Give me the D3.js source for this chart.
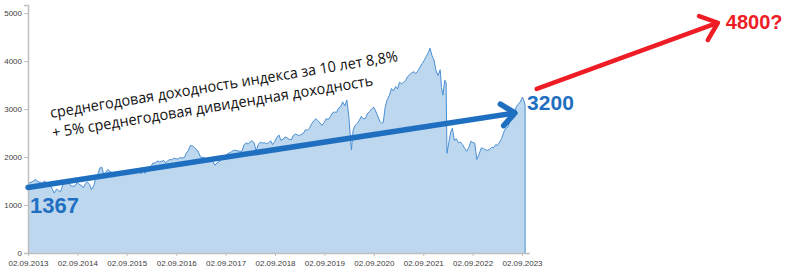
<!DOCTYPE html>
<html>
<head>
<meta charset="utf-8">
<script src="https://cdn.jsdelivr.net/npm/d3@7"></script>
<style>
  body { margin: 0; background: #fff; }
  svg { display: block; }
</style>
</head>
<body>
<div id="chart"></div>
<script>
// Index values, half-monthly.
const dates = [
  "2013-09-02","2013-09-15","2013-10-01","2013-10-15","2013-11-01","2013-11-15","2013-12-01","2013-12-15",
  "2014-01-01","2014-01-15","2014-02-01","2014-02-15","2014-03-01","2014-03-15","2014-04-01","2014-04-15",
  "2014-05-01","2014-05-15","2014-06-01","2014-06-15","2014-07-01","2014-07-15","2014-08-01","2014-08-15",
  "2014-09-01","2014-09-15","2014-10-01","2014-10-15","2014-11-01","2014-11-15","2014-12-01","2014-12-15",
  "2015-01-01","2015-01-15","2015-02-01","2015-02-15","2015-03-01","2015-03-15","2015-04-01","2015-04-15",
  "2015-05-01","2015-05-15","2015-06-01","2015-06-15","2015-07-01","2015-07-15","2015-08-01","2015-08-15",
  "2015-09-01","2015-09-15","2015-10-01","2015-10-15","2015-11-01","2015-11-15","2015-12-01","2015-12-15",
  "2016-01-01","2016-01-15","2016-02-01","2016-02-15","2016-03-01","2016-03-15","2016-04-01","2016-04-15",
  "2016-05-01","2016-05-15","2016-06-01","2016-06-15","2016-07-01","2016-07-15","2016-08-01","2016-08-15",
  "2016-09-01","2016-09-15","2016-10-01","2016-10-15","2016-11-01","2016-11-15","2016-12-01","2016-12-15",
  "2017-01-01","2017-01-15","2017-02-01","2017-02-15","2017-03-01","2017-03-15","2017-04-01","2017-04-15",
  "2017-05-01","2017-05-15","2017-06-01","2017-06-15","2017-07-01","2017-07-15","2017-08-01","2017-08-15",
  "2017-09-01","2017-09-15","2017-10-01","2017-10-15","2017-11-01","2017-11-15","2017-12-01","2017-12-15",
  "2018-01-01","2018-01-15","2018-02-01","2018-02-15","2018-03-01","2018-03-15","2018-04-01","2018-04-15",
  "2018-05-01","2018-05-15","2018-06-01","2018-06-15","2018-07-01","2018-07-15","2018-08-01","2018-08-15",
  "2018-09-01","2018-09-15","2018-10-01","2018-10-15","2018-11-01","2018-11-15","2018-12-01","2018-12-15",
  "2019-01-01","2019-01-15","2019-02-01","2019-02-15","2019-03-01","2019-03-15","2019-04-01","2019-04-15",
  "2019-05-01","2019-05-15","2019-06-01","2019-06-15","2019-07-01","2019-07-15","2019-08-01","2019-08-15",
  "2019-09-01","2019-09-15","2019-10-01","2019-10-15","2019-11-01","2019-11-15","2019-12-01","2019-12-15",
  "2020-01-01","2020-01-15","2020-02-01","2020-02-15","2020-03-01","2020-03-10","2020-03-20","2020-04-01",
  "2020-04-15","2020-05-01","2020-05-15","2020-06-01","2020-06-15","2020-07-01","2020-07-15","2020-08-01",
  "2020-08-15","2020-09-01","2020-09-15","2020-10-01","2020-10-15","2020-11-01","2020-11-10","2020-11-25",
  "2020-12-10","2020-12-25",
  "2021-01-10","2021-01-25","2021-02-10","2021-02-25","2021-03-10","2021-03-25","2021-04-10","2021-04-25",
  "2021-05-10","2021-05-25","2021-06-10","2021-06-25","2021-07-10","2021-07-25","2021-08-10","2021-08-25",
  "2021-09-10","2021-09-25","2021-10-10","2021-10-22","2021-11-05","2021-11-20","2021-12-05","2021-12-20",
  "2022-01-05","2022-01-15","2022-01-25","2022-02-08","2022-02-18","2022-02-24","2022-03-24","2022-04-05",
  "2022-04-20","2022-05-05","2022-05-20","2022-06-05","2022-06-20","2022-07-05","2022-07-20","2022-08-05",
  "2022-08-20","2022-09-05","2022-09-18","2022-10-03","2022-10-18","2022-11-05","2022-11-20","2022-12-05",
  "2022-12-20",
  "2023-01-05","2023-01-20","2023-02-05","2023-02-20","2023-03-05","2023-03-20","2023-04-05","2023-04-20",
  "2023-05-05","2023-05-20","2023-06-05","2023-06-20","2023-07-05","2023-07-20","2023-08-05","2023-08-20",
  "2023-09-05","2023-09-14","2023-09-25"
];
const values = [
  1420,1470,1480,1510,1530,1480,1480,1450,
  1500,1470,1420,1410,1330,1250,1330,1300,
  1280,1400,1450,1480,1470,1400,1390,1400,
  1470,1430,1410,1360,1450,1480,1430,1320,
  1400,1560,1650,1770,1790,1650,1680,1740,
  1700,1680,1650,1660,1660,1690,1640,1710,
  1650,1640,1680,1690,1700,1730,1720,1650,
  1760,1660,1720,1750,1820,1880,1870,1920,
  1900,1910,1930,1880,1920,1950,1940,1980,
  1960,1960,1990,1980,1990,2080,2140,2240,
  2230,2200,2150,2090,1990,2000,1980,1960,
  1990,1980,1900,1830,1880,1900,1950,1960,
  2010,2070,2090,2110,2140,2140,2130,2120,
  2120,2250,2300,2270,2310,2340,2300,2120,
  2260,2310,2290,2300,2280,2290,2340,2260,
  2330,2410,2460,2350,2370,2420,2400,2370,
  2360,2450,2480,2460,2450,2470,2500,2570,
  2560,2600,2700,2750,2800,2760,2710,2660,
  2720,2800,2780,2840,2920,2940,2930,3020,
  3050,3150,3070,3190,2850,2500,2150,2550,
  2650,2700,2750,2850,2800,2800,2900,2950,
  3000,3040,2960,2850,2750,2700,2720,3050,
  3200,3280,
  3430,3380,3470,3420,3560,3530,3560,3600,
  3680,3720,3760,3780,3740,3800,3880,3950,
  4020,4100,4180,4270,4120,4030,3800,3700,
  3820,3450,3290,3600,3550,2080,2520,2600,
  2350,2380,2300,2310,2260,2180,2120,2200,
  2330,2300,2290,1950,2050,2190,2180,2150,
  2140,
  2160,2200,2200,2260,2240,2310,2390,2520,
  2600,2620,2780,2810,2850,3040,3100,3150,
  3250,3200,3080
];

// Axis tick labels.
const yTicks = [0, 1000, 2000, 3000, 4000, 5000];
const xTickLabels = [
  "02.09.2013","02.09.2014","02.09.2015","02.09.2016","02.09.2017","02.09.2018",
  "02.09.2019","02.09.2020","02.09.2021","02.09.2022","02.09.2023"
];

// Annotations.
const trendStart = { date: "2013-09-02", value: 1367 };
const trendEnd = { date: "2023-07-12", value: 2920 };
const forecastStart = { date: "2023-12-20", value: 3420 };
const forecastEnd = { date: "2027-08-20", value: 4800 };
const labelStart = "1367";
const labelEnd = "3200";
const labelForecast = "4800?";
const noteLines = [
  "среднегодовая доходность индекса за 10 лет 8,8%",
  "+ 5% среднегодовая дивидендная доходность"
];

// Draws an arrow: a thick line and an open chevron at the end.
function arrow(svg, x1, y1, x2, y2, color, width, head) {
  const angle = Math.atan2(y2 - y1, x2 - x1);
  const spread = Math.PI * 0.22;
  const g = svg.append("g")
    .attr("stroke", color)
    .attr("stroke-width", width)
    .attr("stroke-linecap", "round")
    .attr("stroke-linejoin", "round")
    .attr("fill", "none");
  g.append("line")
    .attr("x1", x1).attr("y1", y1)
    .attr("x2", x2 - Math.cos(angle) * 2).attr("y2", y2 - Math.sin(angle) * 2);
  g.append("path")
    .attr("d", "M" + (x2 - head * Math.cos(angle - spread)) + "," + (y2 - head * Math.sin(angle - spread)) +
      "L" + x2 + "," + y2 +
      "L" + (x2 - head * Math.cos(angle + spread)) + "," + (y2 - head * Math.sin(angle + spread)));
}

d3.select(window).on("load", function () {
  const width = 800;
  const height = 272;
  const parse = d3.timeParse("%Y-%m-%d");
  const parseTick = d3.timeParse("%d.%m.%Y");

  const data = dates.map((d, i) => ({ date: parse(d), value: values[i] }));
  const tickDates = xTickLabels.map(parseTick);

  const svg = d3.select("#chart")
    .append("svg")
    .attr("width", width)
    .attr("height", height);

  const x = d3.scaleTime()
    .domain([tickDates[0], tickDates[tickDates.length - 1]])
    .range([28, 522]);
  const y = d3.scaleLinear()
    .domain([0, 5170])
    .range([253, 5]);

  // Area and its outline.
  const area = d3.area()
    .x(d => x(d.date))
    .y0(y(0))
    .y1(d => y(d.value));
  const line = d3.line()
    .x(d => x(d.date))
    .y(d => y(d.value));

  svg.append("path")
    .datum(data)
    .attr("d", area)
    .attr("fill", "#bdd7ee");
  svg.append("path")
    .datum(data)
    .attr("d", line)
    .attr("fill", "none")
    .attr("stroke", "#4a8fd3")
    .attr("stroke-width", 1);
  const last = data[data.length - 1];
  svg.append("line")
    .attr("x1", x(last.date)).attr("x2", x(last.date))
    .attr("y1", y(last.value)).attr("y2", y(0))
    .attr("stroke", "#4a8fd3")
    .attr("stroke-width", 1);

  // Axes.
  const yAxis = d3.axisLeft(y).tickValues(yTicks).tickSize(4).tickFormat(d3.format("d"));
  const xAxis = d3.axisBottom(x).tickValues(tickDates).tickSize(3)
    .tickFormat((d, i) => xTickLabels[i]);

  const gy = svg.append("g")
    .attr("transform", "translate(28,0)")
    .call(yAxis);
  const gx = svg.append("g")
    .attr("transform", "translate(0,253)")
    .call(xAxis);
  gx.select(".domain").attr("d", "M28,0.5H530");

  [gx, gy].forEach(g => {
    g.select(".domain").attr("stroke", "#bfbfbf").attr("stroke-width", 1.5);
    g.selectAll(".tick line").attr("stroke", "#bfbfbf");
    g.selectAll(".tick text")
      .attr("fill", "#404040")
      .style("font-family", "Liberation Sans, Arial, sans-serif")
      .style("font-size", "8px");
  });
  gy.selectAll(".tick text").attr("x", -6);
  gx.selectAll(".tick text").attr("y", 7);

  // Trend arrow (blue) and forecast arrow (red).
  arrow(svg, x(parse(trendStart.date)), y(trendStart.value),
    x(parse(trendEnd.date)), y(trendEnd.value), "#1f6fc1", 5.5, 17);
  arrow(svg, x(parse(forecastStart.date)), y(forecastStart.value),
    x(parse(forecastEnd.date)), y(forecastEnd.value), "#ee1c25", 4.5, 20);

  const bold = "Liberation Sans, Arial, sans-serif";
  svg.append("text")
    .attr("x", x(parse(trendStart.date)) + 2)
    .attr("y", y(trendStart.value) + 26)
    .attr("fill", "#1f6fc1")
    .style("font-family", bold)
    .style("font-weight", "bold")
    .style("font-size", "22px")
    .text(labelStart);
  svg.append("text")
    .attr("x", x(last.date) + 2)
    .attr("y", y(3200) + 11)
    .attr("fill", "#1f6fc1")
    .style("font-family", bold)
    .style("font-weight", "bold")
    .style("font-size", "21px")
    .text(labelEnd);
  svg.append("text")
    .attr("x", x(parse(forecastEnd.date)) + 8)
    .attr("y", y(forecastEnd.value) + 6)
    .attr("fill", "#ee1c25")
    .style("font-family", bold)
    .style("font-weight", "bold")
    .style("font-size", "20px")
    .text(labelForecast);

  // Rotated note.
  const notePos = [[51, 118, 352], [53, 138, 325]];
  noteLines.forEach((t, i) => {
    svg.append("text")
      .attr("transform", "translate(" + notePos[i][0] + "," + notePos[i][1] + ") rotate(-9.3)")
      .attr("textLength", notePos[i][2])
      .attr("lengthAdjust", "spacingAndGlyphs")
      .attr("fill", "#111")
      .style("font-family", "Open Sans, sans-serif")
      .style("font-size", "15px")
      .text(t);
  });
});
</script>
</body>
</html>
